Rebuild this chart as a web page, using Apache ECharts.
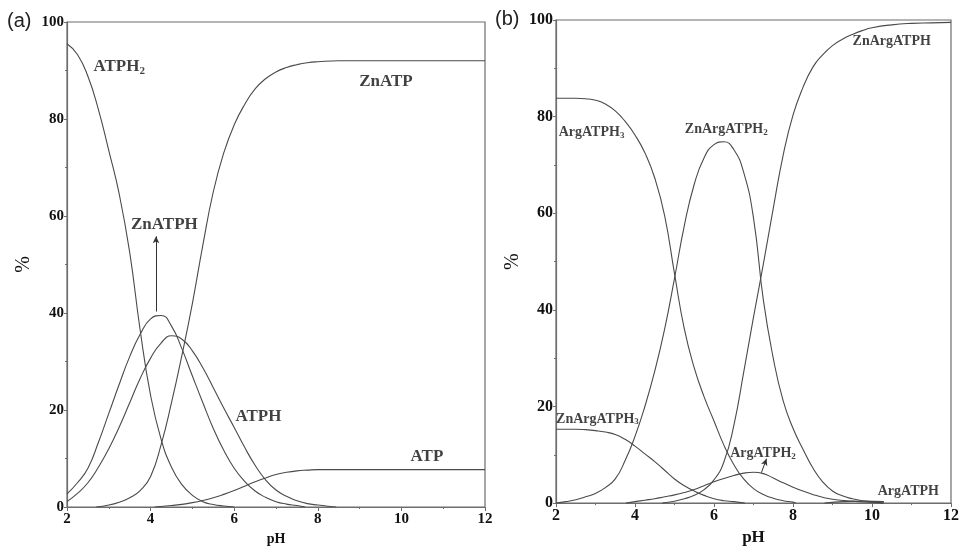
<!DOCTYPE html>
<html>
<head>
<meta charset="utf-8">
<title>Species distribution</title>
<script src="https://cdn.jsdelivr.net/npm/echarts@6/dist/echarts.min.js"></script>
<style>
  html, body { margin: 0; padding: 0; background: #fff; }
  #chart { width: 962px; height: 551px; }
</style>
</head>
<body>
<div id="chart"></div>
<script>
// (a) Zn / ATP system, [pH, %]
const atph2 = [[2, 95.5], [2.25, 93.3], [2.5, 88.8], [2.75, 82], [3, 73.5], [3.25, 64.5], [3.5, 52.5], [3.75, 36.5], [4, 23], [4.25, 14], [4.5, 8.2], [4.75, 4.6], [5, 2.4], [5.25, 1.1], [5.5, 0.5], [5.75, 0.2], [6, 0]]
const znatph = [[2, 2.7], [2.25, 5], [2.5, 8], [2.75, 13.3], [3, 19.3], [3.25, 25.3], [3.5, 31], [3.75, 35.6], [4, 38.8], [4.25, 39.5], [4.5, 37.3], [4.75, 32.6], [5, 27], [5.25, 21.5], [5.5, 16.2], [5.75, 11.7], [6, 8], [6.25, 5.3], [6.5, 3.3], [6.75, 2], [7, 1.1], [7.25, 0.6], [7.5, 0.3], [7.7, 0]]
const atph = [[2, 1.1], [2.25, 2.8], [2.5, 5], [2.75, 8.2], [3, 12], [3.25, 16.5], [3.5, 21.5], [3.75, 26.5], [4, 30.7], [4.25, 33.8], [4.5, 35.3], [4.75, 34.6], [5, 32.2], [5.25, 28.7], [5.5, 24.6], [5.75, 20.4], [6, 16.4], [6.25, 12.3], [6.5, 8.6], [6.75, 5.6], [7, 3.5], [7.25, 2.2], [7.5, 1.3], [7.75, 0.7], [8, 0.4], [8.25, 0.15], [8.44, 0]]
const znatp = [[2.7, 0], [3, 0.4], [3.25, 1], [3.5, 1.9], [3.75, 3.4], [4, 6.3], [4.25, 12.8], [4.5, 21.5], [4.75, 31.3], [5, 42], [5.25, 54], [5.5, 65], [5.75, 73], [6, 78.8], [6.25, 83], [6.5, 86.2], [6.75, 88.3], [7, 89.7], [7.25, 90.6], [7.5, 91.2], [7.75, 91.6], [8, 91.8], [8.5, 92], [9, 92], [12, 92]]
const atp = [[4.1, 0], [4.5, 0.3], [4.75, 0.55], [5, 0.9], [5.25, 1.35], [5.5, 1.9], [5.75, 2.6], [6, 3.4], [6.25, 4.3], [6.5, 5.2], [6.75, 6], [7, 6.7], [7.25, 7.15], [7.5, 7.45], [7.75, 7.6], [8, 7.7], [8.5, 7.7], [12, 7.7]]

// (b) Zn / Arg / ATP system, [pH, %]
const argatph3 = [[2, 83.8], [2.5, 83.8], [2.75, 83.7], [3, 83.4], [3.25, 82.6], [3.5, 81.2], [3.75, 79], [4, 76.2], [4.25, 72.5], [4.5, 67.3], [4.75, 59.5], [5, 47.5], [5.25, 36], [5.5, 28], [5.75, 22], [6, 17], [6.25, 12], [6.5, 8], [6.75, 5], [7, 3], [7.25, 1.8], [7.5, 1], [7.75, 0.5], [8, 0.2], [8.07, 0]]
const znargatph2 = [[2, 0], [2.25, 0.3], [2.5, 0.7], [2.75, 1.3], [3, 2], [3.25, 3.2], [3.5, 5], [3.75, 8.8], [4, 13.8], [4.25, 20], [4.5, 27.3], [4.75, 36], [5, 46.5], [5.25, 57.5], [5.5, 66], [5.75, 71.5], [6, 74.2], [6.25, 74.8], [6.5, 73.2], [6.75, 68.5], [7, 59], [7.25, 42], [7.5, 30], [7.75, 21.2], [8, 15.5], [8.25, 11.2], [8.5, 7.3], [8.75, 4.4], [9, 2.5], [9.25, 1.5], [9.5, 0.9], [9.75, 0.5], [10, 0.3], [10.3, 0]]
const znargatph = [[4.69, 0], [5, 0.4], [5.25, 0.9], [5.5, 1.6], [5.75, 2.8], [6, 4.8], [6.25, 8.5], [6.5, 16], [6.75, 27], [7, 38.5], [7.25, 49.5], [7.5, 61], [7.75, 72], [8, 80.3], [8.25, 86], [8.5, 90.2], [8.75, 92.8], [9, 94.7], [9.25, 96], [9.5, 97], [9.75, 97.8], [10, 98.4], [10.5, 99], [11, 99.3], [11.5, 99.4], [12, 99.5]]
const znargatph3 = [[2, 15.3], [2.25, 15.3], [2.5, 15.3], [2.75, 15.2], [3, 15], [3.25, 14.7], [3.5, 14.2], [3.75, 13.2], [4, 11.8], [4.25, 10.2], [4.5, 8.6], [4.75, 6.8], [5, 5], [5.25, 3.6], [5.5, 2.5], [5.75, 1.6], [6, 0.9], [6.25, 0.5], [6.5, 0.3], [6.78, 0]]
const argatph2 = [[3.77, 0], [4, 0.3], [4.25, 0.6], [4.5, 0.9], [4.75, 1.3], [5, 1.7], [5.25, 2.2], [5.5, 2.8], [5.75, 3.6], [6, 4.4], [6.25, 5.1], [6.5, 5.7], [6.75, 6.2], [7, 6.4], [7.25, 6.1], [7.5, 5.2], [7.75, 4.2], [8, 3.3], [8.25, 2.5], [8.5, 1.8], [8.75, 1.2], [9, 0.8], [9.5, 0.4], [10, 0.15], [10.3, 0]]
const argatph = [[8.8, 0], [9.3, 0.3], [9.8, 0.4], [10.3, 0.3]]

const pctTicks = [0, 20, 40, 60, 80, 100]
const phTicks = [2, 4, 6, 8, 10, 12]

const SERIF = '"Liberation Serif", "DejaVu Serif", serif'
const LINE = '#4a4a4a'
const AXIS = '#6d6d6d'

const chart = echarts.init(document.getElementById('chart'))

function xAxisOf(grid, fontSize, nameSize) {
  return {
    gridIndex: grid,
    type: 'value',
    min: phTicks[0],
    max: phTicks[phTicks.length - 1],
    interval: 2,
    name: 'pH',
    nameLocation: 'middle',
    nameGap: 25,
    nameTextStyle: { fontFamily: SERIF, fontWeight: 'bold', fontSize: nameSize, color: '#111' },
    axisLine: { show: true, onZero: false, lineStyle: { color: AXIS, width: 1.2 } },
    axisTick: { show: true, length: 4, lineStyle: { color: AXIS } },
    minorTick: { show: true, splitNumber: 2, length: 2, lineStyle: { color: AXIS } },
    axisLabel: { fontFamily: SERIF, fontWeight: 'bold', fontSize: fontSize, color: '#111', margin: 5 },
    splitLine: { show: false }
  }
}

function yAxisOf(grid, fontSize, gap) {
  return {
    gridIndex: grid,
    type: 'value',
    min: pctTicks[0],
    max: pctTicks[pctTicks.length - 1],
    interval: 20,
    name: '%',
    nameLocation: 'middle',
    nameRotate: 90,
    nameGap: gap,
    nameTextStyle: { fontFamily: SERIF, fontSize: 20, color: '#111' },
    axisLine: { show: true, lineStyle: { color: AXIS, width: 1.2 } },
    axisTick: { show: true, length: 3, lineStyle: { color: AXIS } },
    minorTick: { show: true, splitNumber: 2, length: 2, lineStyle: { color: AXIS } },
    axisLabel: { fontFamily: SERIF, fontWeight: 'bold', fontSize: fontSize, color: '#111', margin: 3 },
    splitLine: { show: false }
  }
}

function curve(data, grid) {
  return {
    type: 'line',
    xAxisIndex: grid,
    yAxisIndex: grid,
    data: data,
    showSymbol: false,
    smooth: 0.5,
    silent: true,
    lineStyle: { color: LINE, width: 1.1 }
  }
}

function arrow(from, to, grid) {
  return {
    type: 'line',
    xAxisIndex: grid,
    yAxisIndex: grid,
    data: [],
    silent: true,
    markLine: {
      silent: true,
      animation: false,
      symbol: ['none', 'arrow'],
      symbolSize: [5, 7],
      label: { show: false },
      lineStyle: { color: '#333', type: 'solid', width: 1 },
      data: [[{ coord: from }, { coord: to }]]
    }
  }
}

// text labels anchored in data space
function labels(items, grid, size) {
  return {
    type: 'scatter',
    xAxisIndex: grid,
    yAxisIndex: grid,
    symbolSize: 0,
    silent: true,
    data: items.map(it => ({ value: [it[1], it[2]], name: it[0] })),
    label: {
      show: true,
      position: 'inside',
      formatter: p => {
        const m = p.name.match(/^(.*?)(\d)$/)
        return m ? m[1] + '{sub|' + m[2] + '}' : p.name
      },
      fontFamily: SERIF,
      fontWeight: 'bold',
      fontSize: size,
      color: '#111',
      rich: {
        sub: {
          fontFamily: SERIF,
          fontWeight: 'bold',
          fontSize: Math.round(size * 0.66),
          color: '#111',
          padding: [Math.round(size * 0.45), 0, 0, 0]
        }
      }
    }
  }
}

chart.setOption({
  animation: false,
  backgroundColor: '#fff',
  grid: [
    { left: 67, right: 477, top: 22, bottom: 36, show: true, borderColor: AXIS, borderWidth: 1.2 },
    { left: 556, right: 6, top: 20, bottom: 37, show: true, borderColor: AXIS, borderWidth: 1.2 }
  ],
  xAxis: [xAxisOf(0, 15, 14), xAxisOf(1, 16, 17)],
  yAxis: [yAxisOf(0, 15, 33), yAxisOf(1, 16, 33)],
  graphic: [
    { type: 'text', left: 7, top: 11, style: { text: '(a)', font: '20px "Liberation Sans", Arial, sans-serif', fill: '#222' } },
    { type: 'text', left: 495, top: 9, style: { text: '(b)', font: '20px "Liberation Sans", Arial, sans-serif', fill: '#222' } }
  ],
  series: [
    curve(atph2, 0),
    curve(znatph, 0),
    curve(atph, 0),
    curve(znatp, 0),
    curve(atp, 0),
    arrow([4.13, 40.3], [4.13, 55.8], 0),
    labels([
      ['ATPH2', 3.25, 90.7],
      ['ZnATP', 9.63, 87.8],
      ['ZnATPH', 4.33, 58.2],
      ['ATPH', 6.58, 18.7],
      ['ATP', 10.61, 10.3]
    ], 0, 17),

    curve(argatph3, 1),
    curve(znargatph2, 1),
    curve(znargatph, 1),
    curve(znargatph3, 1),
    curve(argatph2, 1),
    curve(argatph, 1),
    arrow([7.2, 6.3], [7.33, 9.2], 1),
    labels([
      ['ArgATPH3', 2.9, 76.7],
      ['ZnArgATPH2', 6.31, 77.3],
      ['ZnArgATPH', 10.5, 95.5],
      ['ZnArgATPH3', 3.05, 17.4],
      ['ArgATPH2', 7.24, 10.3],
      ['ArgATPH', 10.92, 2.4]
    ], 1, 14)
  ]
})
</script>
</body>
</html>
